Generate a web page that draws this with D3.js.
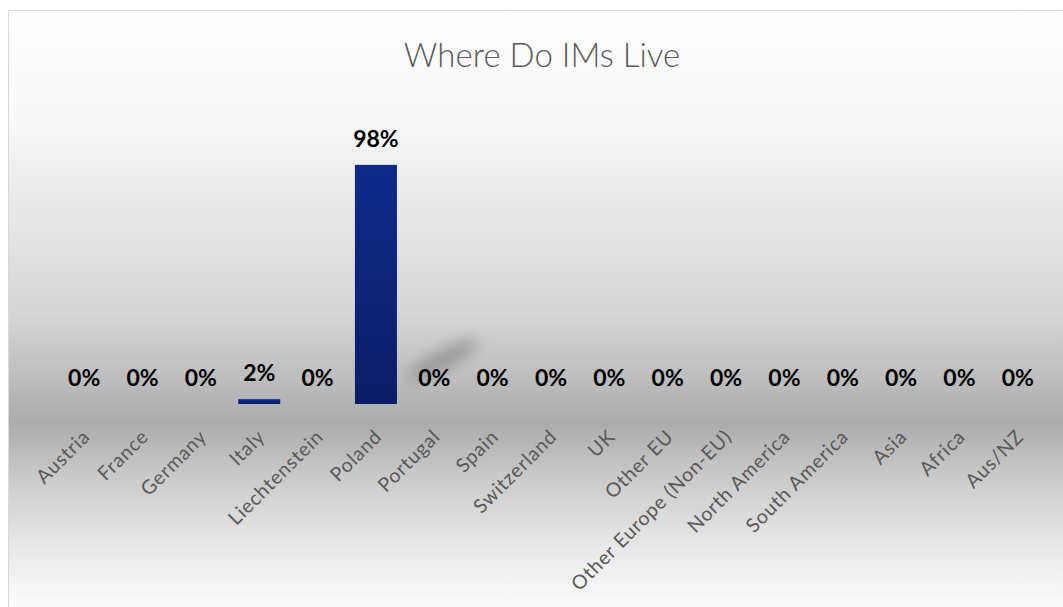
<!DOCTYPE html>
<html>
<head>
<meta charset="utf-8">
<script src="https://cdn.jsdelivr.net/npm/d3@7"></script>
<style>
  html, body { margin: 0; padding: 0; background: #fff; }
  svg { display: block; }
</style>
</head>
<body>
<svg id="chart"></svg>
<script>
// chart data
const categories = ["Austria", "France", "Germany", "Italy", "Liechtenstein", "Poland", "Portugal",
  "Spain", "Switzerland", "UK", "Other EU", "Other Europe (Non-EU)", "North America",
  "South America", "Asia", "Africa", "Aus/NZ"];
const shares = [0, 0, 0, 0.02, 0, 0.98, 0, 0, 0, 0, 0, 0, 0, 0, 0, 0, 0];
const title = "Where Do IMs Live";

let width = 1063;
let height = 607;
let baseline = 404;
let labelFont = "Lato, 'Open Sans', sans-serif";

let svg = d3.select('#chart')
  .attr('width', width)
  .attr('height', height);

let defs = svg.append('defs');

// background gradient of the chart area
let bg = defs.append('linearGradient')
  .attr('id', 'bg')
  .attr('x1', 0).attr('y1', 0).attr('x2', 0).attr('y2', 1);
[[0, '#ffffff'], [0.18, '#f8f8f8'], [0.5, '#d6d6d6'], [0.68, '#acacac'],
 [0.77, '#cbcbcb'], [0.9, '#ececec'], [1, '#fefefe']].forEach(s => {
  bg.append('stop').attr('offset', s[0]).attr('stop-color', s[1]);
});

let barGrad = defs.append('linearGradient')
  .attr('id', 'bar')
  .attr('x1', 0).attr('y1', 0).attr('x2', 0).attr('y2', 1);
barGrad.append('stop').attr('offset', 0).attr('stop-color', '#0e2a8b');
barGrad.append('stop').attr('offset', 1).attr('stop-color', '#0a1d66');

defs.append('filter').attr('id', 'blur')
  .attr('x', '-50%').attr('y', '-50%').attr('width', '200%').attr('height', '200%')
  .append('feGaussianBlur').attr('stdDeviation', 7);

svg.append('rect')
  .attr('x', 8.5).attr('y', 10.5)
  .attr('width', width).attr('height', height)
  .attr('fill', 'url(#bg)')
  .attr('stroke', '#d9d9d9');

// title
svg.append('text')
  .attr('x', 542).attr('y', 67)
  .attr('text-anchor', 'middle')
  .attr('font-family', labelFont)
  .attr('font-size', 33)
  .attr('font-weight', 300)
  .attr('fill', '#595959')
  .text(title);

let x = d3.scaleBand()
  .domain(categories)
  .range([55, 1047])
  .paddingInner(0.28)
  .paddingOuter(0.14);

let y = d3.scaleLinear()
  .domain([0, 1])
  .range([baseline, baseline - 244]);

// soft shadow blob beside the tall bar
let sx = x('Portugal') + x.bandwidth() / 2 + 8;
let sy = y(0.18);
svg.append('ellipse')
  .attr('cx', sx)
  .attr('cy', sy)
  .attr('rx', 40).attr('ry', 10)
  .attr('transform', `rotate(-28 ${sx} ${sy})`)
  .attr('fill', '#7a7a7a')
  .attr('opacity', 0.55)
  .attr('filter', 'url(#blur)');

let data = categories.map((c, i) => ({ name: c, value: shares[i] }));

svg.selectAll('rect.bar')
  .data(data)
  .enter()
  .append('rect')
    .attr('class', 'bar')
    .attr('x', d => x(d.name))
    .attr('y', d => y(d.value))
    .attr('width', x.bandwidth())
    .attr('height', d => baseline - y(d.value))
    .attr('fill', 'url(#bar)');

// data labels
svg.selectAll('text.val')
  .data(data)
  .enter()
  .append('text')
    .attr('class', 'val')
    .attr('x', d => x(d.name) + x.bandwidth() / 2)
    .attr('y', d => y(d.value) - 18)
    .attr('text-anchor', 'middle')
    .attr('font-family', labelFont)
    .attr('font-weight', 'bold')
    .attr('font-size', 23)
    .attr('fill', '#000')
    .text(d => d3.format('.0%')(d.value));

// category axis, no line or ticks
let axis = svg.append('g')
  .attr('transform', `translate(0,${baseline})`)
  .call(d3.axisBottom(x).tickSize(0));
axis.select('.domain').remove();
axis.selectAll('text')
  .attr('font-family', labelFont)
  .attr('font-size', 19.5)
  .attr('letter-spacing', 0.8)
  .attr('fill', '#595959')
  .attr('text-anchor', 'end')
  .attr('dy', 0)
  .attr('y', 0)
  .attr('transform', 'translate(7,34) rotate(-45)');
</script>
</body>
</html>
